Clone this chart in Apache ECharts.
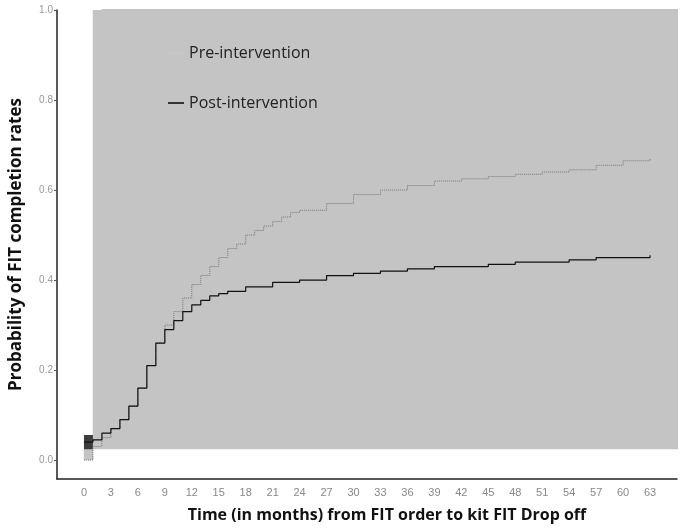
<!DOCTYPE html>
<html>
<head>
<meta charset="utf-8">
<script src="https://cdn.jsdelivr.net/npm/echarts@6/dist/echarts.min.js"></script>
<style>html,body{margin:0;background:#fff}#c{width:680px;height:528px}</style>
</head>
<body>
<div id="c"></div>
<script>
/* ── Kaplan-Meier style curves ── */
const POST = [[0,0.0],[1,0.03],[2,0.05],[3,0.07],[4,0.09],[5,0.12],[6,0.16],[7,0.21],[8,0.26],[9,0.30],[10,0.33],[11,0.36],[12,0.39],[13,0.41],[14,0.43],[15,0.45],[16,0.47],[17,0.48],[18,0.50],[19,0.51],[20,0.52],[21,0.53],[22,0.54],[23,0.55],[24,0.555],[27,0.57],[30,0.59],[33,0.60],[36,0.61],[39,0.62],[42,0.625],[45,0.63],[48,0.635],[51,0.64],[54,0.645],[57,0.655],[60,0.665],[63,0.67]];
const PRE = [[0,0.04],[1,0.045],[2,0.06],[3,0.07],[4,0.09],[5,0.12],[6,0.16],[7,0.21],[8,0.26],[9,0.29],[10,0.31],[11,0.33],[12,0.345],[13,0.355],[14,0.365],[15,0.37],[16,0.375],[18,0.385],[21,0.395],[24,0.40],[27,0.41],[30,0.415],[33,0.42],[36,0.425],[39,0.43],[42,0.43],[45,0.435],[48,0.44],[51,0.44],[54,0.445],[57,0.45],[60,0.45],[63,0.455]];

function band(data, half, stack, color, z) {
    return [
        { type: 'line', step: 'end', stack, stackStrategy: 'all', symbol: 'none', silent: true, z,
          data: data.map(d => [d[0], d[1] - half]), lineStyle: { opacity: 0 } },
        { type: 'line', step: 'end', stack, stackStrategy: 'all', symbol: 'none', silent: true, z,
          data: data.map(d => [d[0], 2 * half]), lineStyle: { opacity: 0 },
          areaStyle: { color, opacity: 1 } }
    ];
}

const ticks = [0, 0.2, 0.4, 0.6, 0.8, 1.0];
const chart = echarts.init(document.getElementById('c'));
chart.setOption({
    backgroundColor: '#fff',
    animation: false,
    grid: { left: 51, right: -3, top: 10, bottom: 46 },
    legend: {
        left: 163, top: 40, orient: 'vertical', itemGap: 34,
        itemWidth: 16, itemHeight: 2, icon: 'rect',
        textStyle: { fontSize: 16, color: '#222', fontFamily: 'Open Sans' },
        data: [
            { name: 'Pre-intervention', itemStyle: { color: '#c8c8c8' } },
            { name: 'Post-intervention', itemStyle: { color: '#333' } }
        ]
    },
    xAxis: {
        type: 'value', min: -3, max: 66, interval: 3,
        name: 'Time (in months) from FIT order to kit FIT Drop off',
        nameLocation: 'middle', nameGap: 28,
        nameTextStyle: { fontSize: 16, fontWeight: 'bold', color: '#111', fontFamily: 'Open Sans', padding: [0, 0, 0, 40] },
        axisLine: { onZero: false, lineStyle: { color: '#222', width: 1.5 } },
        axisTick: { show: false },
        splitLine: { show: false },
        axisLabel: { color: '#888', fontSize: 11, formatter: v => (v < 0 || v > 63) ? '' : v }
    },
    yAxis: {
        type: 'value', min: -0.042, max: 1.0,
        name: 'Probability of FIT completion rates',
        nameLocation: 'middle', nameGap: 32,
        nameTextStyle: { fontSize: 17, fontWeight: 'bold', color: '#111', fontFamily: 'Open Sans' },
        axisLine: { show: true, onZero: false, lineStyle: { color: '#222', width: 1.5 } },
        axisTick: { show: true, customValues: ticks, length: 3, lineStyle: { color: '#555' } },
        splitLine: { show: false },
        axisLabel: { color: '#999', fontSize: 10, margin: 4, customValues: ticks, formatter: v => v.toFixed(1) }
    },
    graphic: [{
        type: 'text', left: 402, top: 358,
        style: { text: 'P-value<0.0001', fontSize: 17, fill: '#222', fontFamily: 'Open Sans' }
    }],
    series: [
        ...band(POST, 0.028, 'post', '#3c3c3c', 2),
        ...band(PRE, 0.012, 'pre', '#c4c4c4', 3),
        { name: 'Post-intervention', type: 'line', step: 'end', symbol: 'none', z: 4, data: POST,
          lineStyle: { color: '#777', width: 1, type: 'dotted' }, itemStyle: { color: '#333' } },
        { name: 'Pre-intervention', type: 'line', step: 'end', symbol: 'none', z: 5, data: PRE,
          lineStyle: { color: '#111', width: 1.2 }, itemStyle: { color: '#c8c8c8' } }
    ]
});
</script>
</body>
</html>
